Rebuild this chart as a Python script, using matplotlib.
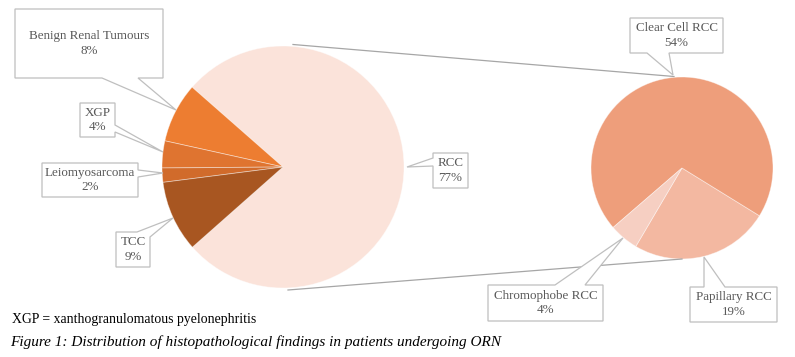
import matplotlib
matplotlib.use("Agg")
import matplotlib.pyplot as plt
from matplotlib.patches import Polygon

# ---- data ----
main_labels = ["RCC", "Benign Renal Tumours", "XGP", "Leiomyosarcoma", "TCC"]
main_values = [77, 8, 3.6, 1.9, 9.5]
main_pct = ["77%", "8%", "4%", "2%", "9%"]
main_colors = ["#FBE3DA", "#ED7D31", "#DF7430", "#D16B2B", "#A85621"]

sub_labels = ["Papillary RCC", "Clear Cell RCC", "Chromophobe RCC"]
sub_values = [19, 54, 4]
sub_pct = ["19%", "54%", "4%"]
sub_colors = ["#F3B8A1", "#EE9E7B", "#F6CFC2"]

footnote = "XGP = xanthogranulomatous pyelonephritis"
caption = "Figure 1: Distribution of histopathological findings in patients undergoing ORN"

W, H = 795, 357
fig = plt.figure(figsize=(W / 100, H / 100), dpi=100)
ax = fig.add_axes([0, 0, 1, 1])
ax.set_xlim(0, W)
ax.set_ylim(0, H)
ax.set_aspect("equal")
ax.axis("off")

def Y(y):
    return H - y

# main pie
c1 = (283, Y(167)); r1 = 121
c2 = (682, Y(168)); r2 = 91
wedge_kw = dict(edgecolor=(1, 1, 1, 0.45), linewidth=0.6)
ax.pie(main_values, colors=main_colors, startangle=-138.5, counterclock=True,
       center=c1, radius=r1, wedgeprops=wedge_kw, frame=True)
ax.pie(sub_values, colors=sub_colors, startangle=-120.5, counterclock=True,
       center=c2, radius=r2, wedgeprops=wedge_kw, frame=True)
ax.set_xlim(0, W)
ax.set_ylim(0, H)
ax.axis("off")

# connector lines
line_col = "#A6A6A6"
ax.plot([c1[0] + 10, c2[0] - 8], [c1[1] + r1 + 1.5, c2[1] + r2 + 0.5], color=line_col, lw=0.9, zorder=1)
ax.plot([c1[0] + 5, c2[0]], [c1[1] - r1 - 2, c2[1] - r2], color=line_col, lw=0.9, zorder=1)

def callout(box, side, a, b, tip, name, pct):
    x0, y0, x1, y1 = box
    if side == "bottom":
        pts = [(x0, y0), (x1, y0), (x1, y1), (b, y1), tip, (a, y1), (x0, y1)]
    elif side == "top":
        pts = [(x0, y0), (a, y0), tip, (b, y0), (x1, y0), (x1, y1), (x0, y1)]
    elif side == "right":
        pts = [(x0, y0), (x1, y0), (x1, a), tip, (x1, b), (x1, y1), (x0, y1)]
    elif side == "left":
        pts = [(x0, y0), (x1, y0), (x1, y1), (x0, y1), (x0, b), tip, (x0, a)]
    elif side == "corner":  # top edge at x=a, right edge at y=b
        pts = [(x0, y0), (a, y0), tip, (x1, b), (x1, y1), (x0, y1)]
    pts = [(px, Y(py)) for px, py in pts]
    ax.add_patch(Polygon(pts, closed=True, facecolor="white", edgecolor="#BFBFBF",
                         linewidth=0.9, zorder=5))
    cx = (x0 + x1) / 2
    cy = (y0 + y1) / 2
    ax.text(cx, Y(cy - 7.3), name, ha="center", va="center", fontsize=9.4,
            family="Liberation Serif", color="#595959", zorder=6)
    ax.text(cx, Y(cy + 7.3), pct, ha="center", va="center", fontsize=9.4,
            family="Liberation Serif", color="#595959", zorder=6)

callout((15, 9, 163, 78), "bottom", 102, 138, (176, 110), main_labels[1], main_pct[1])
callout((80, 103, 115, 137), "right", 125, 132, (163, 152), main_labels[2], main_pct[2])
callout((42, 163, 138, 197), "right", 170, 177, (163, 173), main_labels[3], main_pct[3])
callout((116, 232, 150, 267), "corner", 137, 237, (173, 218), main_labels[4], main_pct[4])
callout((433, 153, 468, 188), "left", 158, 166, (407, 167), main_labels[0], main_pct[0])
callout((630, 18, 723, 53), "bottom", 647, 669, (673, 75), sub_labels[1], sub_pct[1])
callout((488, 285, 603, 321), "top", 555, 585, (623, 238), sub_labels[2], sub_pct[2])
callout((690, 287, 777, 322), "top", 704, 725, (704, 257), sub_labels[0], sub_pct[0])

ax.text(12, Y(319), footnote, ha="left", va="center", fontsize=9.9,
        family="Liberation Serif", color="black")
ax.text(10, Y(342), caption, ha="left", va="center", fontsize=11.0,
        family="Liberation Serif", style="italic", color="black")

fig.savefig("out.png", dpi=100)
